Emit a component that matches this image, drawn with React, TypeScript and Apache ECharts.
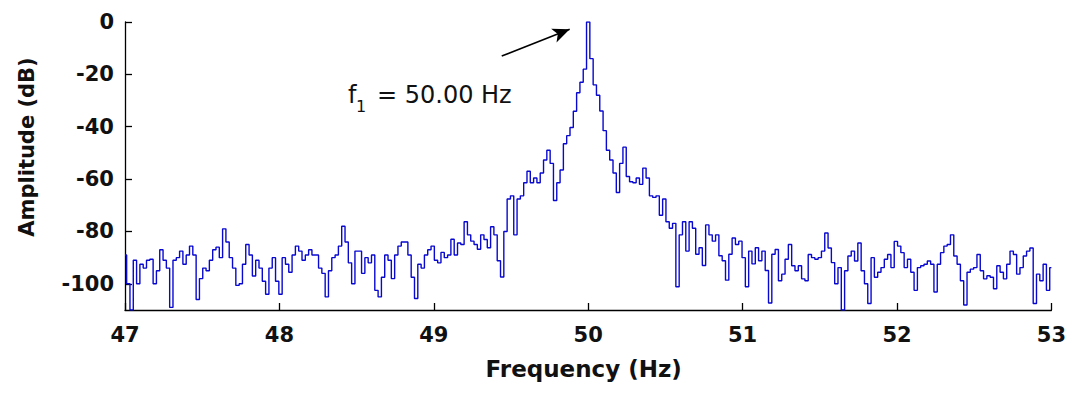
import React, { useEffect, useRef } from "react";
import * as echarts from "echarts";

// Spectrum around the 50 Hz fundamental, evenly spaced bins from 47 to 53 Hz
const FREQ_MIN = 47;
const FREQ_MAX = 53;
const X_INTERVAL = 1;

const Y_MIN = -110;
const Y_MAX = 0;
const Y_TICKS = [0, -20, -40, -60, -80, -100];

// Amplitude of each bin in dB
const amplitudeDb = [
  -89, -100, -110, -91, -100, -92.5, -94, -91, -90.6, -100,
  -95, -87, -91, -94, -109, -91, -90, -87.5, -92.5, -89,
  -85.6, -89, -106, -98, -94, -95, -91, -87, -86, -90,
  -79, -84, -90, -94, -100.6, -100, -92.5, -85, -89, -97,
  -91, -94, -99, -104, -94, -90, -99, -104, -90, -92.5,
  -95.6, -89, -85.6, -87.5, -91, -89, -87, -89, -89, -94,
  -96, -105, -95, -90, -89, -85.6, -78, -84, -92, -100,
  -87.5, -87.5, -96, -90, -92, -89, -102.5, -105, -97.5, -89,
  -91, -98, -89, -85.6, -84, -84, -89, -97.5, -105.6, -92.5,
  -94, -89, -87, -85.6, -91, -92, -88, -90, -89, -83,
  -89,
  -84.4, -85, -76.3, -81.3, -83.7, -85, -86.8, -81.3, -83.1, -86.2,
  -78.2, -81.3, -91.2, -97.4, -80, -67.6, -66.4, -81.3, -67.6, -66.4,
  -61.4, -57, -61.4, -59.6, -61.4, -57.7, -52.7, -49, -54, -68.2,
  -61.4, -56.5, -46.5, -43.4, -40.3, -34.1, -27, -23, -18, 0,
  -14, -24, -28, -34, -41.5, -49, -52.7, -57.7, -65.1, -54,
  -47.8, -59, -61, -61.4, -59.6, -62, -55.8, -59.6, -66.4, -67,
  -66.4, -73.8, -67.6, -76.3, -78.8, -76.9, -101.1, -81.3, -76.3, -87.5,
  -76.3, -78.8, -88.7, -86.2, -93, -77.5, -81.3, -83.7, -81.3, -89.3,
  -91.2, -98.6, -88.7, -82.5, -85, -83.7, -90, -101.1, -87.5, -92.4,
  -86.2, -91.2, -87.5, -94.9, -107.3, -88.7,
  -86.9, -98.8, -96.3, -90.6,
  -85, -93.1, -95, -93.1, -98.1, -98.8, -88.8, -90, -90.6, -90,
  -87.5, -80.6, -86.3, -91.9, -100, -93.8, -110, -95, -89.4, -87.5,
  -91.3, -84.4, -95, -100, -107.5, -90, -97.5, -95.6, -93.8, -90.6,
  -88.8, -93.8, -83.8, -85.6, -88.1, -93.8, -90.6, -95.6, -102.5, -93.8,
  -93.1, -92.5, -91.3, -92.5, -103.1, -92.5, -88.1, -85.6, -85, -81.3,
  -89.4, -92.5, -98.8, -108.1, -95.6, -94.4, -93.8, -88.8, -95, -98.1,
  -96.9, -97.5, -101.9, -93.1, -95.6, -98.1, -92.5, -87.5, -88.8, -96.3,
  -93.8, -89.4, -87.5, -86.3, -107.5, -96.3, -98.8, -92.5, -102.5, -93.8,
];

// Arrow pointing at the fundamental (frequency, dB); the head's tip sits on the end point
const ARROW_FROM: [number, number] = [49.44, -13.0];
const ARROW_TO: [number, number] = [49.88, -2.8];

const binWidth = (FREQ_MAX - FREQ_MIN) / (amplitudeDb.length - 1);
const spectrum = amplitudeDb.map((a, i) => [FREQ_MIN + i * binWidth, a]);

const LABEL_FONT = "'DejaVu Sans', 'Liberation Sans', sans-serif";

export default function App() {
  const ref = useRef<HTMLDivElement>(null);

  useEffect(() => {
    if (!ref.current) return;
    const chart = echarts.init(ref.current, undefined, { renderer: "svg" });
    chart.setOption({
      animation: false,
      backgroundColor: "#ffffff",
      grid: { left: 114, right: 12, top: 14, bottom: 67, containLabel: false },
      xAxis: {
        type: "value",
        min: FREQ_MIN,
        max: FREQ_MAX,
        interval: X_INTERVAL,
        name: "Frequency (Hz)",
        nameLocation: "middle",
        nameGap: 47,
        nameTextStyle: {
          color: "#111",
          fontFamily: LABEL_FONT,
          fontWeight: "bold",
          fontSize: 23,
          padding: [0, 9, 0, 0],
        },
        axisLine: { show: true, onZero: false, lineStyle: { color: "#000", width: 1.3 } },
        axisTick: { show: true, inside: true, length: 7, lineStyle: { color: "#000", width: 1.3 } },
        axisLabel: {
          color: "#111",
          fontFamily: LABEL_FONT,
          fontWeight: "bold",
          fontSize: 21,
          margin: 14,
        },
        splitLine: { show: false },
      },
      yAxis: {
        type: "value",
        min: Y_MIN,
        max: Y_MAX,
        name: "Amplitude (dB)",
        nameLocation: "middle",
        nameGap: 88,
        nameTextStyle: {
          color: "#111",
          fontFamily: LABEL_FONT,
          fontWeight: "bold",
          fontSize: 21,
          padding: [0, 0, 0, 38],
        },
        axisLine: { show: true, onZero: false, lineStyle: { color: "#000", width: 1.3 } },
        axisTick: {
          show: true,
          inside: true,
          length: 7,
          customValues: Y_TICKS,
          lineStyle: { color: "#000", width: 1.3 },
        },
        axisLabel: {
          color: "#111",
          fontFamily: LABEL_FONT,
          fontWeight: "bold",
          fontSize: 21,
          margin: 11,
          customValues: Y_TICKS,
        },
        splitLine: { show: false },
      },
      series: [
        {
          type: "line",
          data: spectrum,
          step: "middle",
          showSymbol: false,
          clip: true,
          lineStyle: { color: "#0808d0", width: 1.4 },
          markLine: {
            silent: true,
            symbol: ["none", "arrow"],
            symbolSize: [11, 17],
            label: { show: false },
            lineStyle: { color: "#000", width: 1.6, type: "solid" },
            data: [[{ coord: ARROW_FROM }, { coord: ARROW_TO }]],
          },
        },
      ],
      graphic: [
        {
          type: "text",
          left: 340,
          top: 75,
          style: { text: "f", fontFamily: LABEL_FONT, fontSize: 24, fill: "#111" },
        },
        {
          type: "text",
          left: 348,
          top: 90,
          style: { text: "1", fontFamily: LABEL_FONT, fontSize: 16, fill: "#111" },
        },
        {
          type: "text",
          left: 369,
          top: 75,
          style: { text: "= 50.00 Hz", fontFamily: LABEL_FONT, fontSize: 24, fill: "#111" },
        },
      ],
    });
    return () => chart.dispose();
  }, []);

  return <div ref={ref} style={{ width: 1061, height: 377 }} />;
}
